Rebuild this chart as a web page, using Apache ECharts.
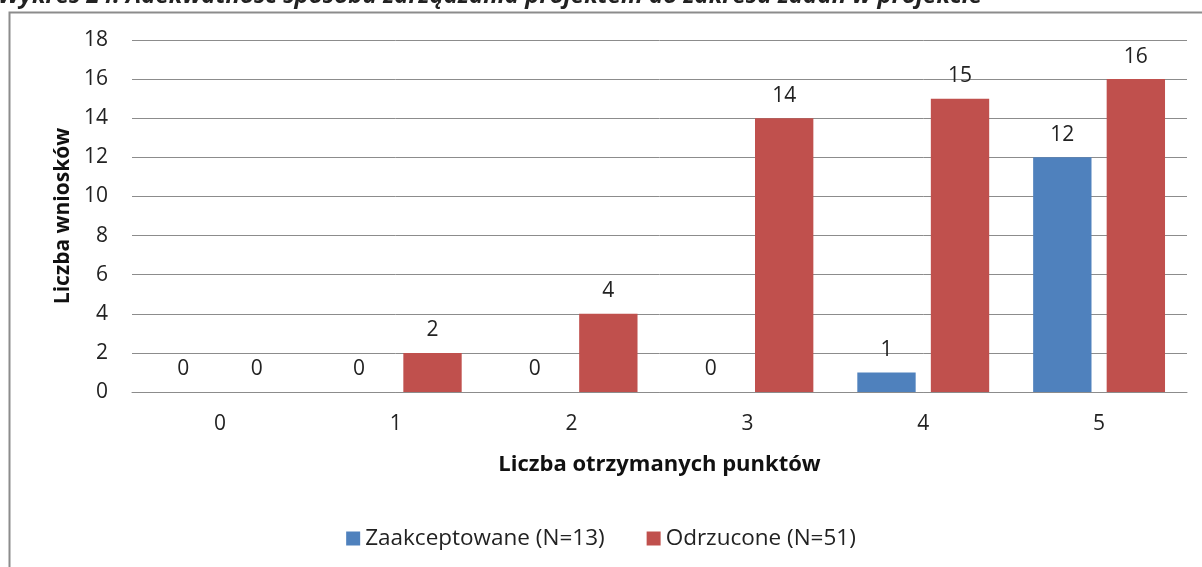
<!DOCTYPE html>
<html>
<head>
<meta charset="utf-8">
<script src="https://cdn.jsdelivr.net/npm/echarts@6/dist/echarts.min.js"></script>
<style>
html, body { margin: 0; padding: 0; background: #fff; }
#chart { width: 1202px; height: 567px; }
</style>
</head>
<body>
<div id="chart"></div>
<script>
// kategorie - liczba punktów
var pointCategories = ['0', '1', '2', '3', '4', '5'];
// Zaakceptowane (N=13)
var acceptedData = [0, 0, 0, 0, 1, 12];
// Odrzucone (N=51)
var rejectedData = [0, 2, 4, 14, 15, 16];
var yTicks = [0, 2, 4, 6, 8, 10, 12, 14, 16, 18];

var font = 'Open Sans';
var chart = echarts.init(document.getElementById('chart'));
var option = {
    animation: false,
    textStyle: { fontFamily: font },
    graphic: [
        {
            type: 'rect',
            shape: { x: 9.5, y: 12.5, width: 1300, height: 700 },
            style: { fill: 'none', stroke: '#8c8c8c', lineWidth: 2 }
        },
        {
            type: 'text',
            left: -2,
            top: -16,
            style: {
                text: 'Wykres 24. Adekwatność sposobu zarządzania projektem do zakresu zadań w projekcie',
                font: 'italic bold 24px "Open Sans"',
                fill: '#222'
            }
        }
    ],
    legend: {
        data: ['Zaakceptowane (N=13)', 'Odrzucone (N=51)'],
        bottom: 12,
        left: 'center',
        itemWidth: 14,
        itemHeight: 14,
        itemGap: 42,
        icon: 'rect',
        textStyle: { fontSize: 22.5, color: '#222', fontFamily: font }
    },
    grid: { left: 132, right: 15, top: 40, bottom: 175 },
    xAxis: {
        type: 'category',
        data: pointCategories,
        name: 'Liczba otrzymanych punktów',
        nameLocation: 'middle',
        nameGap: 62,
        nameTextStyle: { fontSize: 22, fontWeight: 'bold', color: '#111', fontFamily: font },
        axisLine: { lineStyle: { color: '#8c8c8c', width: 1 } },
        axisTick: { show: false },
        axisLabel: { fontSize: 21, color: '#222', margin: 22 }
    },
    yAxis: {
        type: 'value',
        min: yTicks[0],
        max: yTicks[yTicks.length - 1],
        interval: 2,
        name: 'Liczba wniosków',
        nameLocation: 'middle',
        nameGap: 58,
        nameTextStyle: { fontSize: 21, fontWeight: 'bold', color: '#111', fontFamily: font },
        axisLine: { show: false },
        axisTick: { show: false },
        axisLabel: { fontSize: 21, color: '#222', margin: 24 },
        splitLine: { lineStyle: { color: '#8c8c8c', width: 1 } }
    },
    series: [
        {
            name: 'Zaakceptowane (N=13)',
            type: 'bar',
            data: acceptedData,
            barGap: '26%',
            barCategoryGap: '25%',
            itemStyle: { color: '#4f81bd' },
            label: { show: true, position: 'top', distance: 12, fontSize: 21, color: '#222' }
        },
        {
            name: 'Odrzucone (N=51)',
            type: 'bar',
            data: rejectedData,
            barGap: '26%',
            barCategoryGap: '25%',
            itemStyle: { color: '#c0504d' },
            label: { show: true, position: 'top', distance: 12, fontSize: 21, color: '#222' }
        }
    ]
};
chart.setOption(option);
</script>
</body>
</html>
